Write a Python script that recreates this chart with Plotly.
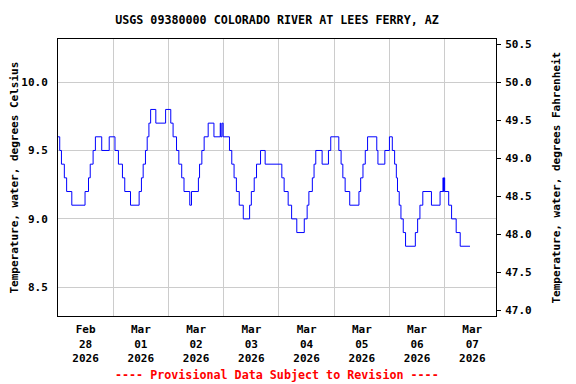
import plotly.graph_objects as go
import pandas as pd

# ---- data (step changes of water temperature, degrees C) ----
times = [
    "2026-02-28 00:00", "2026-02-28 00:45", "2026-02-28 01:30", "2026-02-28 02:45", "2026-02-28 03:45",
    "2026-02-28 06:00", "2026-02-28 11:45", "2026-02-28 13:15", "2026-02-28 14:00", "2026-02-28 15:15",
    "2026-02-28 16:15", "2026-02-28 19:00", "2026-02-28 22:15",
    "2026-03-01 00:45", "2026-03-01 02:15", "2026-03-01 04:00", "2026-03-01 05:00", "2026-03-01 07:30",
    "2026-03-01 11:15", "2026-03-01 12:15", "2026-03-01 13:00", "2026-03-01 14:00", "2026-03-01 14:45",
    "2026-03-01 15:30", "2026-03-01 16:15", "2026-03-01 18:30", "2026-03-01 22:45",
    "2026-03-02 01:00", "2026-03-02 02:00", "2026-03-02 03:30", "2026-03-02 04:30", "2026-03-02 05:45",
    "2026-03-02 06:45", "2026-03-02 09:15", "2026-03-02 10:00", "2026-03-02 13:00", "2026-03-02 13:30",
    "2026-03-02 14:30", "2026-03-02 15:30", "2026-03-02 17:15", "2026-03-02 19:45", "2026-03-02 22:30",
    "2026-03-02 22:45", "2026-03-02 23:15", "2026-03-02 23:30", "2026-03-02 23:45",
    "2026-03-03 02:30", "2026-03-03 03:30", "2026-03-03 04:30", "2026-03-03 05:30", "2026-03-03 06:45",
    "2026-03-03 08:30", "2026-03-03 11:15", "2026-03-03 12:00", "2026-03-03 13:15", "2026-03-03 14:15",
    "2026-03-03 16:00", "2026-03-03 18:00",
    "2026-03-04 01:15", "2026-03-04 02:15", "2026-03-04 04:00", "2026-03-04 05:30", "2026-03-04 07:45",
    "2026-03-04 11:00", "2026-03-04 12:15", "2026-03-04 13:00", "2026-03-04 14:30", "2026-03-04 15:15",
    "2026-03-04 16:00", "2026-03-04 18:45", "2026-03-04 21:30", "2026-03-04 22:30",
    "2026-03-05 02:00", "2026-03-05 03:00", "2026-03-05 03:45", "2026-03-05 04:45", "2026-03-05 06:45",
    "2026-03-05 10:45", "2026-03-05 11:30", "2026-03-05 12:30", "2026-03-05 13:30", "2026-03-05 14:30",
    "2026-03-05 18:30", "2026-03-05 19:00", "2026-03-05 22:00",
    "2026-03-06 00:00", "2026-03-06 01:15", "2026-03-06 02:15", "2026-03-06 03:00", "2026-03-06 03:30",
    "2026-03-06 04:15", "2026-03-06 05:00", "2026-03-06 06:00", "2026-03-06 07:00", "2026-03-06 11:15",
    "2026-03-06 12:15", "2026-03-06 13:15", "2026-03-06 14:30", "2026-03-06 18:15", "2026-03-06 22:00",
    "2026-03-06 23:15", "2026-03-06 23:30", "2026-03-06 23:45",
    "2026-03-07 00:00", "2026-03-07 01:45", "2026-03-07 03:00", "2026-03-07 05:00", "2026-03-07 06:45",
    "2026-03-07 11:00",
]
temp_c = [
    9.6, 9.5, 9.4, 9.3, 9.2,
    9.1, 9.2, 9.3, 9.4, 9.5,
    9.6, 9.5, 9.6,
    9.5, 9.4, 9.3, 9.2, 9.1,
    9.2, 9.3, 9.4, 9.5, 9.6,
    9.7, 9.8, 9.7, 9.8,
    9.7, 9.6, 9.5, 9.4, 9.3,
    9.2, 9.1, 9.2, 9.3, 9.4,
    9.5, 9.6, 9.7, 9.6, 9.7,
    9.6, 9.7, 9.7, 9.6,
    9.5, 9.4, 9.3, 9.2, 9.1,
    9.0, 9.1, 9.2, 9.3, 9.4,
    9.5, 9.4,
    9.3, 9.2, 9.1, 9.0, 8.9,
    9.0, 9.1, 9.2, 9.3, 9.4,
    9.5, 9.4, 9.5, 9.6,
    9.5, 9.4, 9.3, 9.2, 9.1,
    9.2, 9.3, 9.4, 9.5, 9.6,
    9.5, 9.4, 9.5,
    9.6, 9.5, 9.4, 9.3, 9.2,
    9.1, 9.0, 8.9, 8.8, 8.9,
    9.0, 9.1, 9.2, 9.1, 9.2,
    9.3, 9.2, 9.3,
    9.2, 9.1, 9.0, 8.9, 8.8,
    8.8,
]

title_text = "USGS 09380000 COLORADO RIVER AT LEES FERRY, AZ"
left_title = "Temperature, water, degrees Celsius"
right_title = "Temperature, water, degrees Fahrenheit"
footer_text = "---- Provisional Data Subject to Revision ----"

c_range = [8.29, 10.315]
x_range = ["2026-02-28 00:00", "2026-03-07 22:18"]

t = pd.to_datetime(times)
temp_f = [c * 1.8 + 32 for c in temp_c]
f_range = [c * 1.8 + 32 for c in c_range]

FONT = "DejaVu Sans Mono"
font_b = dict(family=FONT, size=11, color="black", weight="bold")

fig = go.Figure()
fig.add_trace(go.Scatter(x=t, y=temp_c, mode="lines", line=dict(color="#0000ff", width=1, shape="hv"),
                         showlegend=False, hoverinfo="skip"))
fig.add_trace(go.Scatter(x=t, y=temp_f, mode="lines", line=dict(color="rgba(0,0,0,0)", width=0, shape="hv"),
                         yaxis="y2", showlegend=False, hoverinfo="skip"))

fig.update_layout(
    width=576, height=384,
    margin=dict(l=58, r=80, t=39, b=68),
    paper_bgcolor="white", plot_bgcolor="white",
    title=dict(text=title_text, x=(58 + 496) / 2 / 576, xanchor="center", y=1 - 20 / 384, yanchor="middle",
               yref="container", xref="container",
               font=dict(family=FONT, size=11.7, color="black", weight="bold")),
    xaxis=dict(
        type="date", range=x_range, dtick=86400000, tick0="2026-02-28 00:00",
        ticklabelmode="period", tickformat="%b<br>%d<br>%Y",
        showgrid=True, gridcolor="#cccccc", gridwidth=1,
        showline=True, linecolor="black", linewidth=1, mirror=True,
        ticks="", ticklabelstandoff=3, tickfont=font_b, zeroline=False,
    ),
    yaxis=dict(
        range=c_range, dtick=0.5, tick0=8.5, tickformat=".1f",
        showgrid=True, gridcolor="#cccccc", gridwidth=1,
        showline=True, linecolor="black", linewidth=1, mirror=True,
        ticks="", ticklabelstandoff=7, tickfont=font_b, zeroline=False,
    ),
    yaxis2=dict(
        range=f_range, dtick=0.5, tick0=47.0, tickformat=".1f", overlaying="y", side="right",
        showgrid=False, showline=True, linecolor="black", linewidth=1,
        ticks="outside", ticklen=4, tickcolor="black", ticklabelstandoff=2,
        tickfont=font_b, zeroline=False,
    ),
    annotations=[
        dict(text=left_title, xref="paper", yref="paper", x=0, y=0.5, xshift=-44, textangle=-90,
             showarrow=False, xanchor="center", yanchor="middle", font=font_b),
        dict(text=right_title, xref="paper", yref="paper", x=1, y=0.5, xshift=60, textangle=-90,
             showarrow=False, xanchor="center", yanchor="middle", font=font_b),
        dict(text=footer_text, xref="paper", yref="paper", x=0.5, y=0, yshift=-59, showarrow=False,
             xanchor="center", yanchor="middle",
             font=dict(family=FONT, size=11.7, color="#ff0000", weight="bold")),
    ],
)

fig.write_html("out.html", config={"displayModeBar": False},
               post_script="document.body.style.margin='0';")
